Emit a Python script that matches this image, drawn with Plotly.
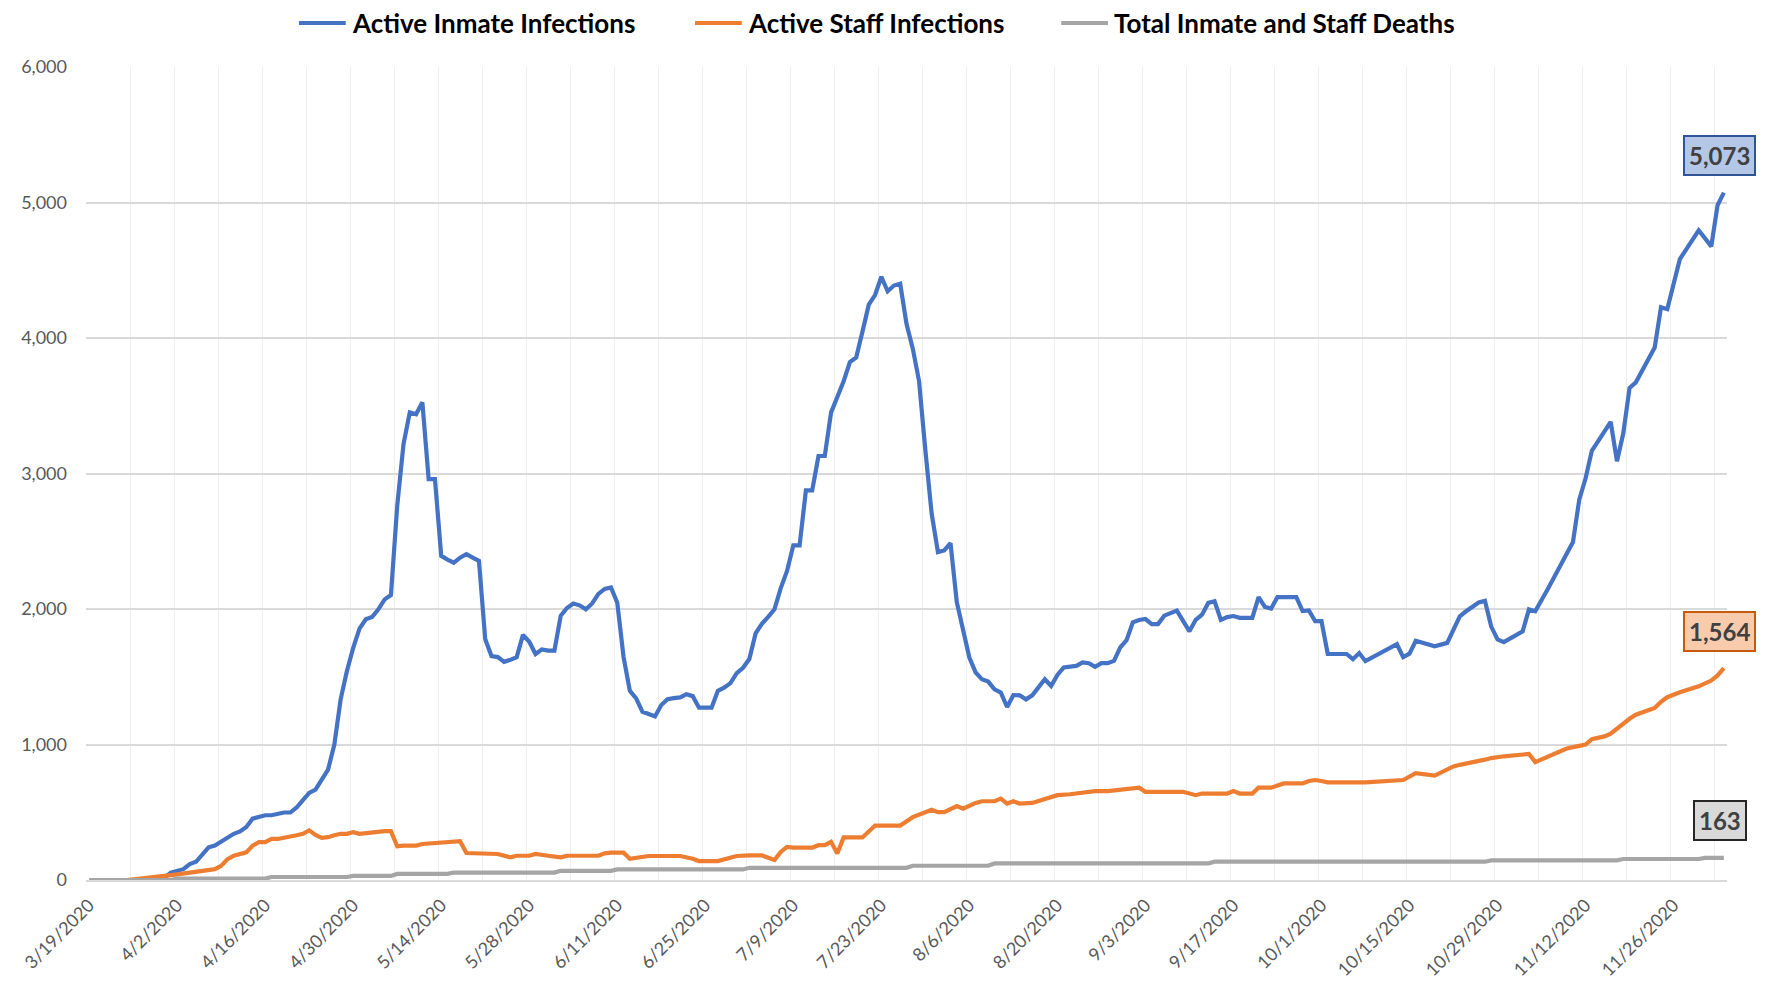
import plotly.graph_objects as go
import pandas as pd

YEAR = 2020

inmate_dates = [
    "3/26", "3/30", "3/31", "4/1", "4/3", "4/4", "4/5", "4/6", "4/7", "4/8", "4/9", "4/10",
    "4/11", "4/12", "4/13", "4/14", "4/15", "4/16", "4/17", "4/18", "4/19", "4/20", "4/21",
    "4/22", "4/23", "4/24", "4/25", "4/26", "4/27", "4/28", "4/29", "4/30", "5/1", "5/2",
    "5/3", "5/4", "5/5", "5/6", "5/7", "5/8", "5/9", "5/10", "5/11", "5/12", "5/13", "5/14",
    "5/15", "5/16", "5/17", "5/18", "5/19", "5/20", "5/21", "5/22", "5/23", "5/24", "5/25",
    "5/26", "5/27", "5/28", "5/29", "5/30", "5/31", "6/1", "6/2", "6/3", "6/4", "6/5", "6/6",
    "6/7", "6/8", "6/9", "6/10", "6/11", "6/12", "6/13", "6/14", "6/15", "6/16", "6/17",
    "6/18", "6/19", "6/20", "6/21", "6/22", "6/23", "6/24", "6/25", "6/26", "6/27", "6/28",
    "6/29", "6/30", "7/1", "7/2", "7/3", "7/4", "7/5", "7/6", "7/7", "7/8", "7/9", "7/10",
    "7/11", "7/12", "7/13", "7/14", "7/15", "7/16", "7/17", "7/18", "7/19", "7/20", "7/21",
    "7/22", "7/23", "7/24", "7/25", "7/26", "7/27", "7/28", "7/29", "7/30", "7/31", "8/1",
    "8/2", "8/3", "8/4", "8/6", "8/7", "8/8", "8/9", "8/10", "8/11", "8/12", "8/13", "8/14",
    "8/15", "8/16", "8/17", "8/18", "8/19", "8/20", "8/21", "8/22", "8/23", "8/24", "8/25",
    "8/26", "8/27", "8/28", "8/29", "8/30", "8/31", "9/1", "9/2", "9/3", "9/4", "9/5", "9/6",
    "9/7", "9/8", "9/10", "9/11", "9/12", "9/13", "9/14", "9/15", "9/16", "9/17", "9/18",
    "9/19", "9/20", "9/21", "9/22", "9/23", "9/24", "9/25", "9/26", "9/27", "9/28", "9/29",
    "9/30", "10/1", "10/2", "10/3", "10/4", "10/5", "10/6", "10/7", "10/8", "10/13", "10/14",
    "10/15", "10/16", "10/19", "10/21", "10/22", "10/23", "10/24", "10/26", "10/27", "10/28",
    "10/29", "10/30", "11/2", "11/3", "11/4", "11/6", "11/10", "11/11", "11/12", "11/13",
    "11/16", "11/17", "11/18", "11/19", "11/20", "11/23", "11/24", "11/25", "11/27", "11/30",
    "12/2", "12/3", "12/4",
]
inmate_values = [
    0, 0, 17, 55, 80, 117, 134, 192, 241, 254, 286, 316,
    341, 358, 391, 453, 465, 478, 478, 490, 498, 498, 535,
    589, 643, 667, 741, 815, 1000, 1333, 1542, 1714, 1855, 1924,
    1941, 1998, 2071, 2103, 2761, 3217, 3451, 3438, 3525, 2958, 2958, 2392,
    2365, 2342, 2379, 2404, 2379, 2355, 1776, 1653, 1645, 1610, 1625,
    1645, 1809, 1758, 1668, 1702, 1693, 1693, 1950, 2007, 2041, 2027, 1998,
    2041, 2111, 2148, 2159, 2046, 1645, 1396, 1340, 1241, 1225, 1207,
    1291, 1334, 1342, 1348, 1371, 1357, 1272, 1272, 1272, 1396, 1419,
    1453, 1526, 1566, 1631, 1820, 1891, 1942, 1998, 2154, 2281, 2470, 2470,
    2875, 2875, 3129, 3129, 3449, 3562, 3681, 3822, 3856, 4048, 4246,
    4317, 4452, 4345, 4387, 4401, 4105, 3921, 3681, 3172, 2704, 2420,
    2432, 2486, 2050, 1642, 1531, 1481, 1464, 1407, 1383, 1277, 1365, 1363,
    1333, 1363, 1420, 1481, 1432, 1514, 1568, 1575, 1580, 1605, 1600,
    1573, 1600, 1600, 1617, 1716, 1770, 1901, 1919, 1926, 1889, 1889, 1951,
    1970, 1988, 1835, 1920, 1958, 2045, 2057, 1920, 1940, 1948, 1935,
    1935, 1935, 2088, 2015, 2003, 2088, 2088, 2088, 2088, 1985, 1990,
    1910, 1910, 1668, 1668, 1668, 1668, 1630, 1675, 1615, 1740, 1645,
    1670, 1765, 1725, 1750, 1850, 1946, 1983, 2048, 2060, 1870,
    1776, 1756, 1835, 1997, 1983, 2148, 2494, 2807, 2963, 3168,
    3381, 3091, 3295, 3631, 3673, 3929, 4227, 4213, 4582, 4795,
    4676, 4980, 5073,
]

staff_dates = [
    "3/25", "3/29", "3/31", "4/2", "4/4", "4/5", "4/6", "4/8", "4/9", "4/10", "4/11", "4/12",
    "4/13", "4/14", "4/15", "4/16", "4/17", "4/18", "4/19", "4/20", "4/21", "4/22", "4/23",
    "4/24", "4/25", "4/26", "4/27", "4/28", "4/29", "4/30", "5/1", "5/2", "5/3", "5/4", "5/5",
    "5/6", "5/7", "5/8", "5/10", "5/11", "5/13", "5/14", "5/16", "5/17", "5/18", "5/20",
    "5/23", "5/25", "5/26", "5/28", "5/29", "5/31", "6/2", "6/3", "6/8", "6/9", "6/10",
    "6/12", "6/13", "6/16", "6/21", "6/23", "6/24", "6/27", "6/29", "6/30", "7/2", "7/4",
    "7/6", "7/7", "7/8", "7/9", "7/12", "7/13", "7/14", "7/15", "7/16", "7/17", "7/20",
    "7/22", "7/26", "7/28", "7/31", "8/1", "8/2", "8/4", "8/5", "8/7", "8/8", "8/10", "8/11",
    "8/12", "8/13", "8/14", "8/16", "8/18", "8/20", "8/22", "8/24", "8/26", "8/28", "8/30",
    "9/1", "9/2", "9/3", "9/9", "9/11", "9/12", "9/16", "9/17", "9/18", "9/20", "9/21",
    "9/23", "9/25", "9/28", "9/29", "9/30", "10/1", "10/2", "10/8", "10/14", "10/16",
    "10/19", "10/22", "10/23", "10/27", "10/28", "10/30", "11/2", "11/3", "11/4", "11/7",
    "11/9", "11/11", "11/12", "11/13", "11/15", "11/16", "11/18", "11/19", "11/20", "11/22",
    "11/23", "11/24", "11/25", "11/27", "11/30", "12/2", "12/3", "12/4",
]
staff_values = [
    0, 25, 30, 42, 55, 62, 62, 80, 104, 154, 179, 192,
    204, 254, 279, 279, 303, 303, 316, 321, 330, 341, 366,
    333, 311, 316, 330, 341, 341, 353, 341, 348, 353, 361, 361,
    361, 249, 254, 254, 266, 271, 279, 279, 286, 199, 197,
    192, 167, 179, 179, 192, 179, 167, 179, 179, 197, 202,
    202, 157, 177, 177, 157, 140, 140, 165, 177, 182, 182,
    147, 207, 244, 239, 239, 257, 257, 282, 195, 314, 314,
    402, 402, 464, 519, 501, 501, 546, 526, 569, 581, 581, 601,
    564, 581, 564, 569, 601, 626, 633, 643, 656, 656, 668,
    681, 681, 651, 651, 626, 638, 638, 656, 638, 638, 681,
    681, 713, 713, 731, 738, 731, 721, 721, 738, 788,
    771, 838, 850, 888, 900, 913, 925, 930, 870, 925,
    970, 990, 1000, 1040, 1060, 1080, 1160, 1190, 1220, 1250,
    1270, 1315, 1349, 1386, 1429, 1472, 1510, 1564,
]

death_dates = [
    "3/19", "4/1", "4/2", "4/16", "4/17", "4/29", "4/30", "5/6", "5/7", "5/15", "5/16",
    "6/1", "6/2", "6/10", "6/11", "7/1", "7/2", "7/27", "7/28", "8/9", "8/10", "9/13",
    "9/14", "10/27", "10/28", "11/17", "11/18", "11/30", "12/1", "12/4",
]
death_values = [
    0, 0, 10, 10, 22, 22, 30, 30, 45, 45, 55,
    55, 68, 68, 78, 78, 90, 90, 105, 105, 122, 122,
    135, 135, 145, 145, 155, 155, 163, 163,
]

tick_labels = [
    "3/19/2020", "4/2/2020", "4/16/2020", "4/30/2020", "5/14/2020", "5/28/2020",
    "6/11/2020", "6/25/2020", "7/9/2020", "7/23/2020", "8/6/2020", "8/20/2020",
    "9/3/2020", "9/17/2020", "10/1/2020", "10/15/2020", "10/29/2020", "11/12/2020",
    "11/26/2020",
]

series_names = ["Active Inmate Infections", "Active Staff Infections", "Total Inmate and Staff Deaths"]
series_colors = ["#4472C4", "#ED7D31", "#A5A5A5"]
label_fills = ["#B4C7E7", "#F8CBAD", "#D9D9D9"]
label_borders = ["#2F5597", "#C55A11", "#262626"]
legend_line_start_px = [284, 682, 1050]   # left end of each legend key line
LEGEND_LINE_LEN = 47
LEGEND_Y_PX = 15


def to_dt(lst):
    return pd.to_datetime([f"{YEAR}/{d}" for d in lst], format="%Y/%m/%d")


series = [
    (to_dt(inmate_dates), inmate_values),
    (to_dt(staff_dates), staff_values),
    (to_dt(death_dates), death_values),
]
tick_dates = pd.to_datetime(tick_labels, format="%m/%d/%Y")

W, H = 1765, 984
M = dict(l=70, r=46, t=59, b=112)
PW = W - M["l"] - M["r"]
PH = H - M["t"] - M["b"]


def px_to_paper(xp, yp):
    return (xp - M["l"]) / PW, (H - M["b"] - yp) / PH


FONT = "Lato"
fig = go.Figure()
for (xs, ys), name, color in zip(series, series_names, series_colors):
    fig.add_trace(go.Scatter(x=xs, y=ys, mode="lines", name=name, showlegend=False,
                             line=dict(color=color, width=4.2)))

half_day = pd.Timedelta(hours=12)
x_start = tick_dates[0] - half_day
x_end = series[0][0][-1] + half_day

# end-value call-outs
for (xs, ys), fill, border in zip(series, label_fills, label_borders):
    fig.add_annotation(
        x=xs[-1], y=ys[-1], xref="x", yref="y",
        text=f"<b>{ys[-1]:,}</b>", showarrow=False,
        yshift=37, xshift=-4,
        font=dict(family=FONT, size=24, color="#404040"),
        bgcolor=fill, bordercolor=border, borderwidth=2, borderpad=4,
    )

# legend keys across the top
for name, color, x0 in zip(series_names, series_colors, legend_line_start_px):
    px0, py = px_to_paper(x0, LEGEND_Y_PX)
    px1, _ = px_to_paper(x0 + LEGEND_LINE_LEN, LEGEND_Y_PX)
    fig.add_shape(type="line", xref="paper", yref="paper", x0=px0, x1=px1, y0=py, y1=py,
                  line=dict(color=color, width=4.2))
    tx, _ = px_to_paper(x0 + LEGEND_LINE_LEN + 4, LEGEND_Y_PX)
    fig.add_annotation(x=tx, y=py, xref="paper", yref="paper", text=f"<b>{name}</b>",
                       showarrow=False, xanchor="left", yanchor="middle",
                       font=dict(family=FONT, size=26, color="black"))

fig.update_layout(
    width=W, height=H,
    margin=M,
    paper_bgcolor="white", plot_bgcolor="white",
    font=dict(family=FONT, color="#595959"),
    showlegend=False,
    xaxis=dict(
        type="date", range=[x_start, x_end],
        tickmode="array", tickvals=tick_dates, ticktext=tick_labels,
        tickangle=-45, tickfont=dict(family=FONT, size=18, color="#595959"),
        showgrid=False, ticks="", zeroline=False,
        showline=True, linecolor="#D9D9D9", linewidth=1.5,
        minor=dict(tick0=x_start, dtick=7 * 86400000, showgrid=True,
                   gridcolor="#EFEFEF", gridwidth=1.2, ticks=""),
        ticklabelstandoff=6,
    ),
    yaxis=dict(
        range=[0, 6000], dtick=1000, tickformat=",",
        tickfont=dict(family=FONT, size=18, color="#595959"),
        showgrid=True, gridcolor="#D9D9D9", gridwidth=1.5,
        zeroline=False, ticks="", ticklabelstandoff=18,
    ),
)

fig.write_html("out.html")
